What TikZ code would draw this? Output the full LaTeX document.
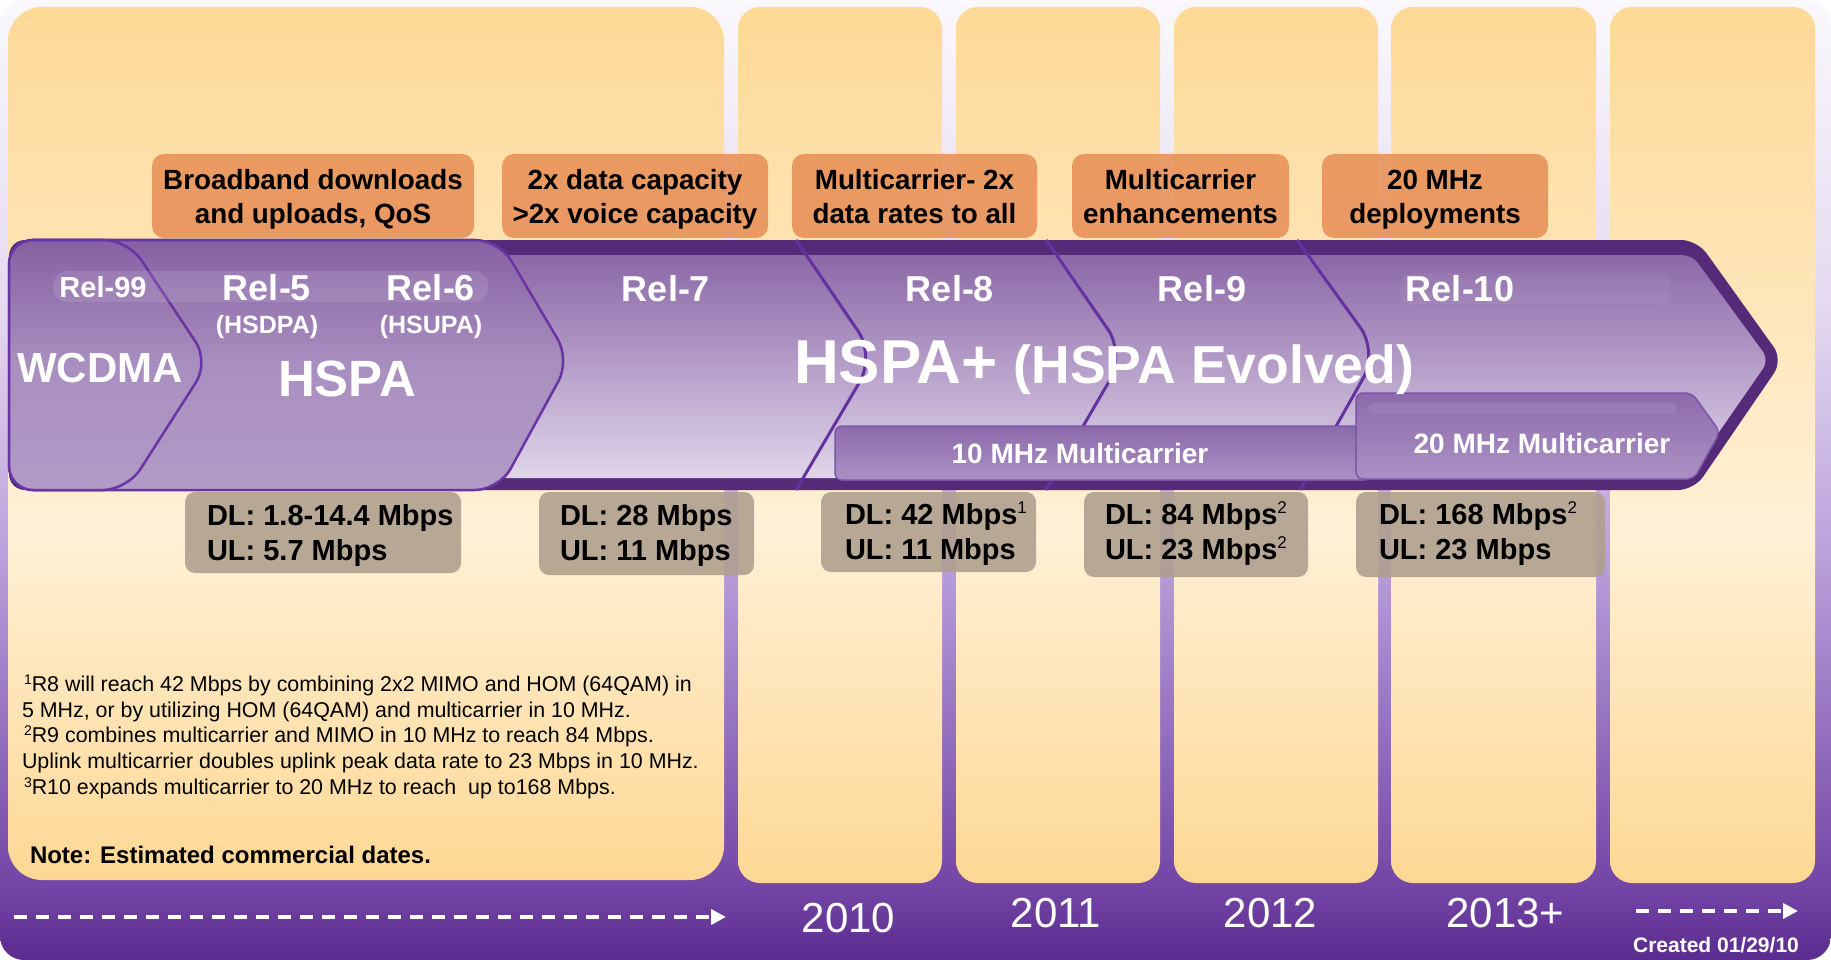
\documentclass[tikz,border=0pt]{standalone}
\usepackage{fontspec}
\setmainfont{Liberation Sans}
\usepackage{tikz}
\usetikzlibrary{arrows.meta}
\definecolor{bgtop}{HTML}{FAF8FC}
\definecolor{bgmid}{HTML}{E4D9F0}
\definecolor{bglow}{HTML}{B9A0DA}
\definecolor{bgdeep}{HTML}{7446A6}
\definecolor{bgbot}{HTML}{5B2C8F}
\definecolor{ptop}{HTML}{FDD995}
\definecolor{pmid}{HTML}{FFF0D6}
\definecolor{pbot}{HTML}{FDD894}
\definecolor{featc}{HTML}{E8925A}
\definecolor{ratec}{HTML}{AE9F8D}
\definecolor{banddark}{HTML}{552A78}
\definecolor{bodytop}{HTML}{8B68A7}
\definecolor{bodybot}{HTML}{E0D5EA}
\definecolor{chevtop}{HTML}{8661A3}
\definecolor{chevmid}{HTML}{A98FC0}
\definecolor{chevbot}{HTML}{B19BC6}
\definecolor{chevline}{HTML}{6934A3}
\definecolor{sepline}{HTML}{6432A0}
\definecolor{mctop}{HTML}{8D6AAB}
\definecolor{mcbot}{HTML}{AA91C3}
\definecolor{mcline}{HTML}{7B55A8}
\pgfdeclareverticalshading{bgshade}{100bp}{color(0bp)=(bgbot); color(25bp)=(bgbot); color(29bp)=(bgdeep); color(46bp)=(bglow); color(59bp)=(bgmid); color(75bp)=(bgtop); color(100bp)=(bgtop)}
\pgfdeclareverticalshading{panelshade}{100bp}{color(0bp)=(pbot); color(25bp)=(pbot); color(45bp)=(pmid); color(75bp)=(ptop); color(100bp)=(ptop)}
\newcommand{\fs}[1]{\fontsize{#1}{#1}\selectfont}
\newcommand{\ratesup}[1]{\raisebox{11pt}{\mdseries\fs{17}#1}}
\newcommand{\notesup}[1]{\raisebox{7pt}{\fs{14}#1}}
\tikzstyle{every node}=[inner sep=0pt, outer sep=0pt]
\tikzstyle{featbox}=[fill=featc, fill opacity=0.9, rounded corners=12pt, minimum height=84pt]
\tikzstyle{ratebox}=[fill=ratec, fill opacity=0.88, rounded corners=10pt]
\tikzstyle{feat}=[anchor=base, font=\bfseries\fs{27.8}, text=black]
\tikzstyle{rate}=[anchor=base west, font=\bfseries\fs{29}, text=black]
\tikzstyle{rel}=[anchor=base, font=\bfseries\fs{36}, text=white]
\tikzstyle{subname}=[anchor=base, font=\bfseries\fs{25}, text=white]
\tikzstyle{bigname}=[anchor=base, font=\bfseries\fs{42}, text=white]
\tikzstyle{mc}=[anchor=base, font=\bfseries\fs{28}, text=white]
\tikzstyle{year}=[anchor=base, font=\fs{42}, text=white]
\tikzstyle{foot}=[anchor=base west, font=\fs{21.4}, text=black]
\tikzstyle{chev}=[top color=chevtop, bottom color=chevbot, middle color=chevmid, draw=chevline, line width=2.5pt, rounded corners=24pt]
\tikzstyle{relsep}=[draw=sepline, line width=3pt, rounded corners=30pt]
\tikzstyle{mcbar}=[top color=mctop, bottom color=mcbot, draw=mcline, line width=1.5pt, rounded corners=7pt]
\tikzstyle{timeline}=[white, line width=4.5pt, dash pattern=on 13pt off 9pt, -{Triangle[length=15pt,width=15pt]}]
\begin{document}
\begin{tikzpicture}[x=1pt, y=-1pt]
\useasboundingbox (0,0) rectangle (1831,960);
%background
\fill[white] (0,0) rectangle (1831,960);
\shade[shading=bgshade, rounded corners=24pt] (0,0) rectangle (1831,960);
%year panels
\shade[shading=panelshade, rounded corners=34pt] (8,7) rectangle (724,880);
\foreach \xa/\xb in {738/942, 956/1160, 1174/1378, 1391/1596, 1610/1815}
  \shade[shading=panelshade, rounded corners=22pt] (\xa,7) rectangle (\xb,883);
%features
\node[featbox, minimum width=322pt] (b1) at (313,196) {};
\node[featbox, minimum width=266pt] (b2) at (635,196) {};
\node[featbox, minimum width=245pt] (b3) at (914.5,196) {};
\node[featbox, minimum width=217pt] (b4) at (1180.5,196) {};
\node[featbox, minimum width=226pt] (b5) at (1435,196) {};
\node[feat] (b1a) at (313,190) {Broadband downloads};
\node[feat] (b1b) at (313,223) {and uploads, QoS};
\node[feat] (b2a) at (635,190) {2x data capacity};
\node[feat] (b2b) at (635,223) {>2x voice capacity};
\node[feat] (b3a) at (914.5,190) {Multicarrier- 2x};
\node[feat] (b3b) at (914.5,223) {data rates to all};
\node[feat] (b4a) at (1180.5,190) {Multicarrier};
\node[feat] (b4b) at (1180.5,223) {enhancements};
\node[feat] (b5a) at (1435,190) {20 MHz};
\node[feat] (b5b) at (1435,223) {deployments};
%release arrow
\fill[banddark, rounded corners=16pt] (300,240) -- (1697,240) -- (1783,360) -- (1694,490) -- (9,490) -- (9,240) -- cycle;
\shade[top color=bodytop, bottom color=bodybot, rounded corners=10pt] (400,255) -- (1692,255) -- (1769,360) -- (1687,478) -- (400,478) -- cycle;
\draw[relsep] (796,240) -- (875,356) -- (796,490);
\draw[relsep] (1046,240) -- (1125,354) -- (1046,490);
\draw[relsep] (1297,240) -- (1378,352) -- (1300,490);
%hspa and wcdma
\path[chev] (300,240) -- (499,240) -- (570,360) -- (499,490) -- (9,490) -- (9,240) -- cycle;
\path[chev] (60,240) -- (128,240) -- (209,362) -- (127,490) -- (9,490) -- (9,240) -- cycle;
\fill[white, opacity=0.11, rounded corners=14pt] (53,271) rectangle (488,302);
\fill[white, opacity=0.05, rounded corners=14pt] (1400,273) rectangle (1671,305);
%multicarrier bars
\path[mcbar] (835,426) rectangle (1372,480);
\path[mcbar] (1500,393) -- (1692,393) -- (1720,432) -- (1694,479) -- (1356,479) -- (1356,393) -- cycle;
\fill[white, opacity=0.08, rounded corners=5pt] (1368,403) rectangle (1676,414);
\node[mc] (mc10) at (1080,463) {10 MHz Multicarrier};
\node[mc] (mc20) at (1542,453) {20 MHz Multicarrier};
%releases
\node[rel, font=\bfseries\fs{29}] (rel99) at (103,297) {Rel-99};
\node[rel] (rel5) at (267,300) {Rel-5};
\node[subname] (hsdpa) at (267,333) {(HSDPA)};
\node[rel] (rel6) at (431,300) {Rel-6};
\node[subname] (hsupa) at (431,333) {(HSUPA)};
\node[bigname] (wcdma) at (100,382) {WCDMA};
\node[bigname, font=\bfseries\fs{51}] (hspa) at (347,396) {HSPA};
\node[rel] (rel7) at (666,301) {Rel-7};
\node[rel] (rel8) at (950,301) {Rel-8};
\node[rel] (rel9) at (1202,301) {Rel-9};
\node[rel] (rel10) at (1460,301) {Rel-10};
\node[anchor=base west, text=white, font=\bfseries] (hspaplus) at (794,383) {{\fs{62}HSPA+}\hspace{16pt}{\fs{53.5}(HSPA Evolved)}};
%peak rates
\node[ratebox, minimum width=276pt, minimum height=81pt] (r1) at (323,532.5) {};
\node[ratebox, minimum width=215pt, minimum height=83pt] (r2) at (646.5,533.5) {};
\node[ratebox, minimum width=215pt, minimum height=80pt] (r3) at (928.5,532) {};
\node[ratebox, minimum width=224pt, minimum height=85pt] (r4) at (1196,534.5) {};
\node[ratebox, minimum width=249pt, minimum height=85pt] (r5) at (1480.5,534.5) {};
\node[rate] (r1dl) at (207,525) {DL: 1.8-14.4 Mbps};
\node[rate] (r1ul) at (207,560) {UL: 5.7 Mbps};
\node[rate] (r2dl) at (560,525) {DL: 28 Mbps};
\node[rate] (r2ul) at (560,560) {UL: 11 Mbps};
\node[rate] (r3dl) at (845,524) {DL: 42 Mbps\ratesup{1}};
\node[rate] (r3ul) at (845,559) {UL: 11 Mbps};
\node[rate] (r4dl) at (1105,524) {DL: 84 Mbps\ratesup{2}};
\node[rate] (r4ul) at (1105,559) {UL: 23 Mbps\ratesup{2}};
\node[rate] (r5dl) at (1379,524) {DL: 168 Mbps\ratesup{2}};
\node[rate] (r5ul) at (1379,559) {UL: 23 Mbps};
%footnotes
\node[foot] (fn1) at (24,691) {\notesup{1}R8 will reach 42 Mbps by combining 2x2 MIMO and HOM (64QAM) in};
\node[foot] (fn2) at (22,717) {5 MHz, or by utilizing HOM (64QAM) and multicarrier in 10 MHz.};
\node[foot] (fn3) at (24,742) {\notesup{2}R9 combines multicarrier and MIMO in 10 MHz to reach 84 Mbps.};
\node[foot] (fn4) at (22,768) {Uplink multicarrier doubles uplink peak data rate to 23 Mbps in 10 MHz.};
\node[foot] (fn5) at (24,794) {\notesup{3}R10 expands multicarrier to 20 MHz to reach\ \ up to168 Mbps.};
\node[anchor=base west, font=\bfseries\fs{24}] (note) at (30,863) {Note: Estimated commercial dates.};
%time axis
\coordinate (tl0) at (14,917);
\coordinate (tl1) at (726,917);
\draw[timeline] (tl0) -- (tl1);
\coordinate (tr0) at (1636,911);
\coordinate (tr1) at (1798,911);
\draw[timeline] (tr0) -- (tr1);
\node[year] (y2010) at (848.5,932) {2010};
\node[year] (y2011) at (1056,927) {2011};
\node[year] (y2012) at (1270.5,927) {2012};
\node[year] (y2013) at (1505.5,927) {2013+};
\node[anchor=base, font=\bfseries\fs{21}, text=white] (created) at (1716,952) {Created 01/29/10};
\end{tikzpicture}
\end{document}
